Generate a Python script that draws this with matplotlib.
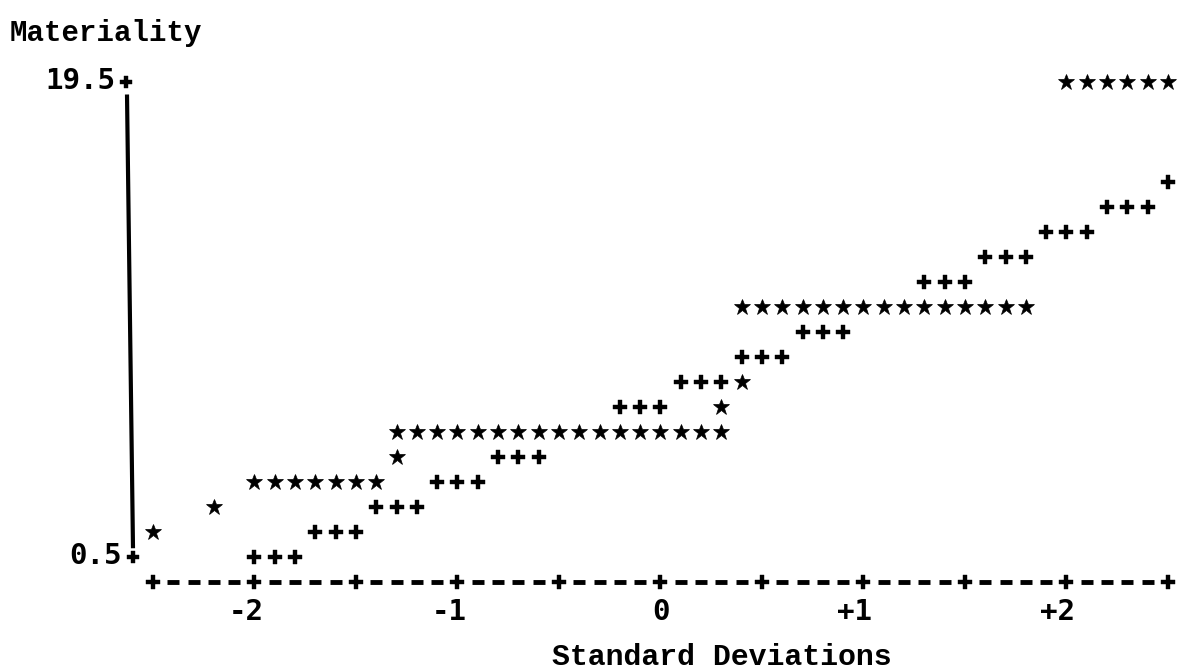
"""Line-printer style plot of materiality against standard deviations.

Two series are printed as characters on a grid: '*' for the observed
materiality steps and '+' for the reference line.
"""

import matplotlib

matplotlib.use("Agg")

import matplotlib.pyplot as plt
import numpy as np

INK = "#000000"

# observed materiality ('*'), one line per printed row
star_sd = [
    -2.5,
    -2.2,
    -2.0, -1.9, -1.8, -1.7, -1.6, -1.5, -1.4,
    -1.3,
    -1.3, -1.2, -1.1, -1.0, -0.9, -0.8, -0.7, -0.6, -0.5,
    -0.4, -0.3, -0.2, -0.1, 0.0, 0.1, 0.2, 0.3,
    0.3,
    0.4,
    0.4, 0.5, 0.6, 0.7, 0.8, 0.9, 1.0, 1.1, 1.2, 1.3, 1.4, 1.5, 1.6, 1.7, 1.8,
    2.0, 2.1, 2.2, 2.3, 2.4, 2.5,
]
star_materiality = [
    1.5,
    2.5,
    3.5, 3.5, 3.5, 3.5, 3.5, 3.5, 3.5,
    4.5,
    5.5, 5.5, 5.5, 5.5, 5.5, 5.5, 5.5, 5.5, 5.5,
    5.5, 5.5, 5.5, 5.5, 5.5, 5.5, 5.5, 5.5,
    6.5,
    7.5,
    10.5, 10.5, 10.5, 10.5, 10.5, 10.5, 10.5, 10.5, 10.5, 10.5, 10.5, 10.5, 10.5, 10.5, 10.5,
    19.5, 19.5, 19.5, 19.5, 19.5, 19.5,
]

# reference line ('+')
plus_sd = [
    -2.0, -1.9, -1.8,
    -1.7, -1.6, -1.5,
    -1.4, -1.3, -1.2,
    -1.1, -1.0, -0.9,
    -0.8, -0.7, -0.6,
    -0.2, -0.1, 0.0,
    0.1, 0.2, 0.3,
    0.4, 0.5, 0.6,
    0.7, 0.8, 0.9,
    1.3, 1.4, 1.5,
    1.6, 1.7, 1.8,
    1.9, 2.0, 2.1,
    2.2, 2.3, 2.4,
    2.5,
]
plus_materiality = [
    0.5, 0.5, 0.5,
    1.5, 1.5, 1.5,
    2.5, 2.5, 2.5,
    3.5, 3.5, 3.5,
    4.5, 4.5, 4.5,
    6.5, 6.5, 6.5,
    7.5, 7.5, 7.5,
    8.5, 8.5, 8.5,
    9.5, 9.5, 9.5,
    11.5, 11.5, 11.5,
    12.5, 12.5, 12.5,
    13.5, 13.5, 13.5,
    14.5, 14.5, 14.5,
    15.5,
]

y_ticks = [0.5, 19.5]
y_tick_labels = ["0.5", "19.5"]
x_ticks = [-2, -1, 0, 1, 2]
x_tick_labels = ["-2", "-1", "0", "+1", "+2"]

X_MIN, X_MAX = -2.5, 2.5
COL = 0.1  # one printer column
AXIS_ROW = -0.5  # printed row under the 0.5 line
PX = 1 / 203  # one pixel in SD units

MONO = "DejaVu Sans Mono"
TYPE = "Liberation Mono"

fig = plt.figure(figsize=(11.78, 6.71), dpi=100)
ax = fig.add_axes([0, 0, 1, 1])
# 203 px per SD, 25 px per printed row
ax.set_xlim(-3.2537, 2.5493)
ax.set_ylim(-4.06, 22.78)
ax.axis("off")

ax.plot(star_sd, star_materiality, linestyle="none", marker="*",
        markersize=12, color=INK, markeredgewidth=0.5, markeredgecolor=INK)
ax.plot(plus_sd, plus_materiality, linestyle="none", marker="P",
        markersize=10.5, color=INK, markeredgewidth=0.3, markeredgecolor=INK)

# vertical axis: a hand-drawn rule, paper slightly skewed on the printer
top_x = X_MIN - 26 * PX
bot_x = X_MIN - 20 * PX
ax.plot([top_x, bot_x], [19.0, 0.85], color=INK, linewidth=3,
        solid_capstyle="butt")
tick_x = [bot_x, top_x - PX]
ax.plot(tick_x, y_ticks, linestyle="none", marker="P",
        markersize=9, color=INK, markeredgewidth=0.3, markeredgecolor=INK)
for tx, val, lab in zip(tick_x, y_ticks, y_tick_labels):
    ax.text(tx - 11 * PX, val + 0.05, lab, ha="right", va="center",
            fontsize=21, fontweight="bold", family=MONO, color=INK)

# horizontal axis as '+----+----+' along the printer row
cols = np.round(np.arange(X_MIN, X_MAX + COL / 2, COL), 1)
is_major = np.isclose((cols * 2) % 1, 0)
majors = cols[is_major]
minors = cols[~is_major]
ax.plot(majors, [AXIS_ROW] * len(majors), linestyle="none", marker="P",
        markersize=10, color=INK, markeredgewidth=0.3, markeredgecolor=INK)
ax.plot(minors, [AXIS_ROW] * len(minors), linestyle="none", marker="_",
        markersize=8, markeredgewidth=3.5, color=INK)
for val, lab in zip(x_ticks, x_tick_labels):
    ax.text(val + 9 * PX, AXIS_ROW - 1.2, lab, ha="right", va="center",
            fontsize=21, fontweight="bold", family=MONO, color=INK)

ax.text(-2.5 - 143 * PX, 21.46, "Materiality", ha="left", va="center",
        fontsize=21, fontweight="bold", family=TYPE, color=INK)
ax.text(0.30, -3.5, "Standard Deviations", ha="center", va="center",
        fontsize=21.5, fontweight="bold", family=TYPE, color=INK)

fig.savefig("out.png", dpi=100, facecolor="white")
